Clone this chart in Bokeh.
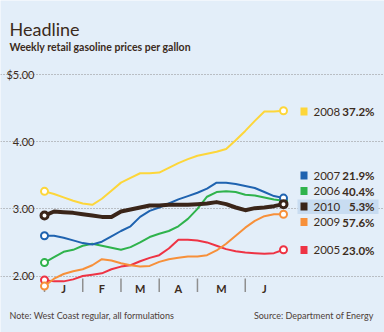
from bokeh.plotting import figure
from bokeh.models import ColumnDataSource, FixedTicker, Label, BoxAnnotation, Range1d
from bokeh.core.properties import value
from bokeh.embed import file_html
from bokeh.resources import INLINE

# ---------------- data ----------------
weeks = list(range(26))
y2005 = [1.94, 1.92, 1.92, 1.95, 2.00, 2.02, 2.04, 2.10, 2.14, 2.16, 2.22, 2.27, 2.31,
         2.41, 2.54, 2.54, 2.53, 2.50, 2.45, 2.40, 2.37, 2.35, 2.34, 2.33, 2.34, 2.39]
y2009 = [1.85, 1.96, 2.03, 2.07, 2.10, 2.16, 2.25, 2.23, 2.19, 2.16, 2.14, 2.15, 2.21,
         2.25, 2.27, 2.29, 2.29, 2.31, 2.38, 2.48, 2.60, 2.72, 2.82, 2.89, 2.92, 2.92]
y2006 = [2.20, 2.28, 2.36, 2.39, 2.45, 2.48, 2.45, 2.42, 2.39, 2.43, 2.50, 2.58, 2.63,
         2.67, 2.74, 2.85, 3.00, 3.18, 3.25, 3.26, 3.25, 3.21, 3.20, 3.17, 3.14, 3.12]
y2007 = [2.60, 2.60, 2.57, 2.53, 2.49, 2.47, 2.51, 2.59, 2.67, 2.74, 2.88, 2.97, 3.02,
         3.08, 3.14, 3.19, 3.24, 3.30, 3.39, 3.39, 3.37, 3.34, 3.31, 3.25, 3.19, 3.16]
y2008 = [3.26, 3.22, 3.17, 3.12, 3.08, 3.06, 3.15, 3.27, 3.39, 3.46, 3.53, 3.53, 3.54,
         3.61, 3.68, 3.74, 3.79, 3.82, 3.85, 3.89, 4.02, 4.16, 4.31, 4.45, 4.45, 4.46]
y2010 = [2.90, 2.96, 2.95, 2.94, 2.92, 2.90, 2.88, 2.88, 2.96, 2.99, 3.02, 3.05, 3.05,
         3.06, 3.06, 3.06, 3.07, 3.08, 3.10, 3.07, 3.02, 2.98, 3.01, 3.02, 3.04, 3.07]

years = ["2008", "2007", "2006", "2010", "2009", "2005"]
changes = ["37.2%", "21.9%", "40.4%", "5.3%", "57.6%", "23.0%"]

month_labels = ["J", "F", "M", "A", "M", "J"]
month_bounds = [0, 4, 8, 12, 16, 21]
month_end = 25
price_ticks = [2, 3, 4, 5]
price_labels = ["2.00", "3.00", "4.00", "$5.00"]

# ---------------- style / layout ----------------
BG = "#e3eef9"
TXT = "#3b2b20"
NOTE = "#4e4038"
GRAY = "#8f8f8f"
COLORS = {"2005": "#ee3344", "2009": "#f7903a", "2006": "#2fb34c",
          "2007": "#1f63b0", "2008": "#fdd63a", "2010": "#3a2519"}
SERIES = {"2005": y2005, "2009": y2009, "2006": y2006,
          "2007": y2007, "2008": y2008, "2010": y2010}
FONT = "Lato"

W, H = 384, 332
X0PX, X1PX = 44, 283          # canvas x of first / last week
Y5PX, Y2PX = 74, 275.5        # canvas y of $5 / $2
xs = (X1PX - X0PX) / (weeks[-1] - weeks[0])
ys = (Y2PX - Y5PX) / 3.0

def dx(px):   # canvas px -> data x
    return weeks[0] + (px - X0PX) / xs

def dy(py):   # canvas px -> data y
    return 2 + (Y2PX - py) / ys

p = figure(width=W, height=H, output_backend="svg", toolbar_location=None,
           x_axis_location=None, y_axis_location=None,
           x_range=Range1d(dx(0), dx(W)), y_range=Range1d(dy(H), dy(0)),
           min_border=0)
p.background_fill_color = BG
p.border_fill_color = BG
p.outline_line_color = None
p.xgrid.visible = False

p.ygrid.ticker = FixedTicker(ticks=price_ticks)
p.ygrid.grid_line_color = GRAY
p.ygrid.grid_line_dash = "1 2"
p.ygrid.grid_line_width = 1
p.ygrid.bounds = (weeks[0], weeks[-1])

# price labels (left of grid)
p.text(x=[dx(34)] * len(price_ticks), y=price_ticks, text=price_labels,
       text_font=value(FONT), text_font_size=value("11px"), text_color=TXT,
       text_align="right", text_baseline="middle")

# month separators and labels
bounds_all = month_bounds + [month_end]
month_mids = [(a + b) / 2 for a, b in zip(bounds_all[:-1], bounds_all[1:])]
p.segment(x0=month_bounds, x1=month_bounds,
          y0=[dy(278)] * len(month_bounds), y1=[dy(291.5)] * len(month_bounds),
          line_color=GRAY, line_width=1.5)
p.text(x=month_mids, y=[dy(288)] * len(month_mids), text=month_labels,
       text_font=value(FONT), text_font_size=value("11px"), text_font_style="bold",
       text_color=TXT, text_align="center", text_baseline="middle")

# ---------------- lines ----------------
for yr in ["2005", "2009", "2006", "2007", "2008", "2010"]:
    vals = SERIES[yr]
    c = COLORS[yr]
    thick = yr == "2010"
    src = ColumnDataSource(dict(x=weeks, y=vals))
    p.line("x", "y", source=src, line_color=c, line_width=4 if thick else 2,
           line_join="round")
    ends = ColumnDataSource(dict(x=[weeks[0], weeks[-1]], y=[vals[0], vals[-1]]))
    p.scatter("x", "y", source=ends, marker="circle", size=7,
              fill_color="white", line_color=c, line_width=3 if thick else 2)

# ---------------- text / legend (screen units, frame == canvas) ----------------
def lab(text, cx, cy, size, style="normal", align="left", color=TXT):
    p.add_layout(Label(x=cx, y=H - cy, x_units="screen", y_units="screen",
                       text=text, text_font=FONT, text_font_size=f"{size}px",
                       text_font_style=style, text_align=align,
                       text_baseline="middle", text_color=color))

def box(l, r, t, b, color):
    p.add_layout(BoxAnnotation(left=l, right=r, top=H - t, bottom=H - b,
                               left_units="screen", right_units="screen",
                               top_units="screen", bottom_units="screen",
                               fill_color=color, fill_alpha=1, line_color=None))

lab("Headline", 9, 28, 18)
lab("Weekly retail gasoline prices per gallon", 9, 46, 10.5, style="bold")
lab("Note: West Coast regular, all formulations", 9, 315, 9, color=NOTE)
lab("Source: Department of Energy", 373, 315, 9, align="right", color=NOTE)

row_y = [111, 175, 190.5, 206, 221.5, 249.5]
box(297, 378, 199, 213.5, "#c8dcf1")
for yr, ch, cy in zip(years, changes, row_y):
    box(300, 307, cy - 4, cy + 4, COLORS[yr])
    lab(yr, 313, cy, 11.5)
    lab(ch, 374, cy, 11.5, style="bold", align="right")

open("out.html", "w").write(file_html(p, INLINE))
